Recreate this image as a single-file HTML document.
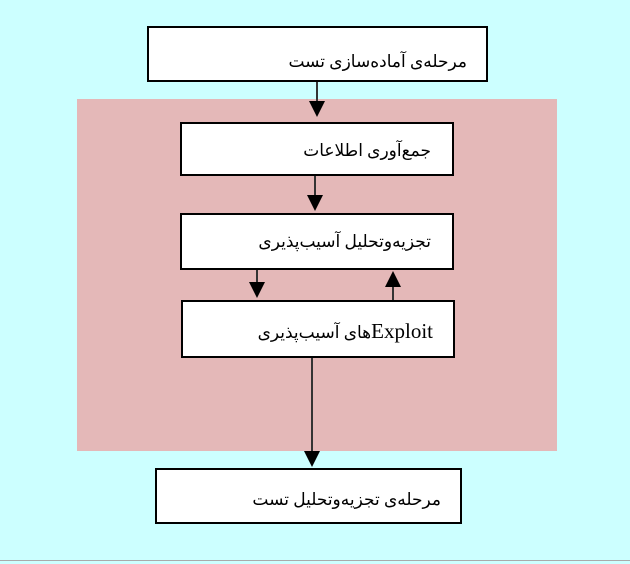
<!DOCTYPE html>
<html><head><meta charset="utf-8"><style>
body{margin:0;width:630px;height:564px;background:#ccffff;position:relative;overflow:hidden;font-family:"Liberation Serif","DejaVu Sans",serif;}
.p{position:absolute;left:77px;top:99px;width:480px;height:352px;background:#e4b8b8;}
.b{position:absolute;background:#fff;border:2px solid #000;box-sizing:border-box;}
.t{position:absolute;direction:rtl;font-size:17px;white-space:nowrap;line-height:20px;}
svg{position:absolute;left:0;top:0;}
</style></head><body>
<div class="p"></div>
<div class="b" style="left:147px;top:26px;width:341px;height:56px"></div>
<div class="t" style="right:163px;top:52px">مرحله‌ی آماده‌سازی تست</div>
<div class="b" style="left:180px;top:122px;width:274px;height:54px"></div>
<div class="t" style="right:199px;top:141px">جمع‌آوری اطلاعات</div>
<div class="b" style="left:180px;top:213px;width:274px;height:57px"></div>
<div class="t" style="right:199px;top:232px">تجزیه‌وتحلیل آسیب‌پذیری</div>
<div class="b" style="left:181px;top:300px;width:274px;height:58px"></div>
<div class="t" style="right:197px;top:321px"><span style="font-size:21px">Exploit</span>های آسیب‌پذیری</div>
<div class="b" style="left:155px;top:468px;width:307px;height:56px"></div>
<div class="t" style="right:189px;top:490px">مرحله‌ی تجزیه‌وتحلیل تست</div>
<svg width="630" height="564">
<g stroke="#333" stroke-width="2">
<line x1="317" y1="82" x2="317" y2="102"/>
<line x1="315" y1="176" x2="315" y2="196"/>
<line x1="257" y1="270" x2="257" y2="283"/>
<line x1="393" y1="300" x2="393" y2="286"/>
<line x1="312" y1="358" x2="312" y2="452"/>
</g>
<g fill="#000">
<polygon points="309,101 325,101 317,117"/>
<polygon points="307,195 323,195 315,211"/>
<polygon points="249,282 265,282 257,298"/>
<polygon points="385,287 401,287 393,271"/>
<polygon points="304,451 320,451 312,467"/>
</g>
<line x1="0" y1="560.5" x2="630" y2="560.5" stroke="#aaa" stroke-width="1"/>
</svg>
</body></html>
